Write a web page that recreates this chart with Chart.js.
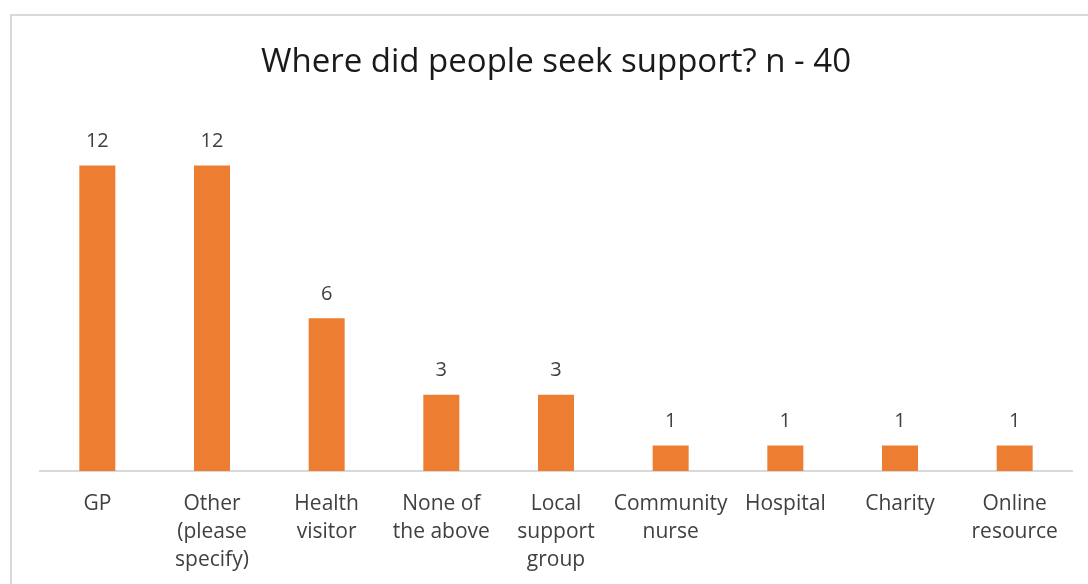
<!DOCTYPE html>
<html>
<head>
<meta charset="utf-8">
<script src="https://cdn.jsdelivr.net/npm/chart.js@4.4.1/dist/chart.umd.min.js"></script>
<style>
  html, body { margin: 0; padding: 0; background: #fff; }
  #frame {
    position: absolute; left: 10px; top: 14px;
    width: 1100px; height: 600px;
    border: 2px solid #d9d9d9; box-sizing: border-box;
  }
  #wrap { position: absolute; left: 0; top: 0; width: 1088px; height: 584px; }
</style>
</head>
<body>
<div id="frame"></div>
<div id="wrap"><canvas id="chart" width="1088" height="584"></canvas></div>
<script>
// categories (wrapped the way the picture wraps them)
const categories = [
    ['GP'],
    ['Other', '(please', 'specify)'],
    ['Health', 'visitor'],
    ['None of', 'the above'],
    ['Local', 'support', 'group'],
    ['Community', 'nurse'],
    ['Hospital'],
    ['Charity'],
    ['Online', 'resource']
]
const counts = [12, 12, 6, 3, 3, 1, 1, 1, 1]
const titleText = 'Where did people seek support? n - 40'

const FONT = "'Open Sans', 'Noto Sans', sans-serif"

// value labels above each bar
const barLabels = {
    id: 'barLabels',
    afterDatasetsDraw(chart) {
        const ctx = chart.ctx
        const meta = chart.getDatasetMeta(0)
        ctx.save()
        ctx.font = '20px ' + FONT
        ctx.fillStyle = '#404040'
        ctx.textAlign = 'center'
        ctx.textBaseline = 'middle'
        meta.data.forEach((bar, i) => {
            ctx.fillText(String(counts[i]), bar.x, bar.y - 24)
        })
        ctx.restore()
    }
}

new Chart(document.getElementById('chart'), {
    type: 'bar',
    data: {
        labels: categories,
        datasets: [{
            data: counts,
            backgroundColor: '#ed7d31',
            borderWidth: 0,
            barPercentage: 0.314,
            categoryPercentage: 1
        }]
    },
    options: {
        responsive: false,
        animation: false,
        layout: {padding: {left: 40, right: 16, top: 0, bottom: -1}},
        plugins: {
            legend: {display: false},
            tooltip: {enabled: false},
            title: {
                display: true,
                text: titleText,
                color: '#1a1a1a',
                font: {family: FONT, size: 33, weight: 'normal'},
                padding: {top: 43, bottom: 32}
            }
        },
        scales: {
            x: {
                grid: {display: false},
                border: {display: true, color: '#d9d9d9', width: 2},
                ticks: {
                    color: '#404040',
                    font: {family: FONT, size: 21, lineHeight: 1.333},
                    maxRotation: 0,
                    autoSkip: false,
                    padding: 11
                }
            },
            y: {
                display: false,
                min: 0,
                max: 14
            }
        }
    },
    plugins: [barLabels]
})
</script>
</body>
</html>
